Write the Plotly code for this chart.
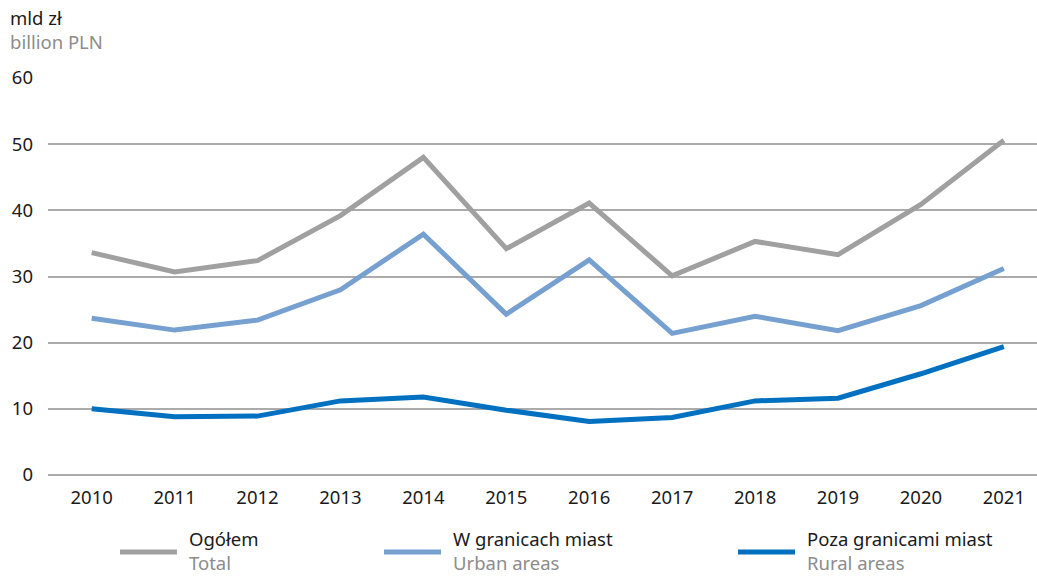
import plotly.graph_objects as go

years = [2010, 2011, 2012, 2013, 2014, 2015, 2016, 2017, 2018, 2019, 2020, 2021]
total = [33.6, 30.7, 32.4, 39.2, 48.0, 34.2, 41.1, 30.1, 35.3, 33.3, 40.9, 50.6]
urban = [23.7, 21.9, 23.4, 28.0, 36.4, 24.3, 32.5, 21.4, 24.0, 21.8, 25.6, 31.2]
rural = [10.0, 8.8, 8.9, 11.2, 11.8, 9.8, 8.1, 8.7, 11.2, 11.6, 15.3, 19.4]

names_pl = ["Ogółem", "W granicach miast", "Poza granicami miast"]
names_en = ["Total", "Urban areas", "Rural areas"]
colors = ["#a0a0a0", "#76a0d0", "#0070c0"]
series = [total, urban, rural]

FONT = "Noto Sans"
FS = 18.5
W, H = 1037, 576
L, R, T, B = 48, 0, 78, 101
PW, PH = W - L - R, H - T - B


def px(x):
    return (x - L) / PW


def py(y):
    return ((H - y) - B) / PH


fig = go.Figure()
for vals, name, col in zip(series, names_pl, colors):
    fig.add_trace(go.Scatter(
        x=years, y=vals, mode="lines", name=name,
        line=dict(color=col, width=5), showlegend=False,
    ))

# legend below the plot: line swatch + Polish / English caption
leg_x = [120, 384, 738]
for xs, pl, en, col in zip(leg_x, names_pl, names_en, colors):
    fig.add_shape(type="line", xref="paper", yref="paper",
                  x0=px(xs), x1=px(xs + 57), y0=py(552), y1=py(552),
                  line=dict(color=col, width=5), layer="above")
    fig.add_annotation(xref="paper", yref="paper", x=px(xs + 68), y=py(576),
                       text=f"{pl}<br><span style='color:#8c8c8c'>{en}</span>",
                       showarrow=False, xanchor="left", yanchor="bottom", align="left",
                       borderpad=0,
                       font=dict(family=FONT, size=FS, color="#1a1a1a"))

# unit captions
fig.add_annotation(xref="paper", yref="paper", x=px(9), y=py(4),
                   text="mld zł<br><span style='color:#8c8c8c'>billion PLN</span>",
                   showarrow=False, xanchor="left", yanchor="top", align="left",
                   borderpad=0,
                   font=dict(family=FONT, size=FS, color="#1a1a1a"))

fig.update_layout(
    width=W, height=H,
    margin=dict(l=L, r=R, t=T, b=B),
    plot_bgcolor="white", paper_bgcolor="white",
    font=dict(family=FONT, size=FS, color="#1a1a1a"),
    xaxis=dict(
        range=[2009.473, 2021.40], tickmode="array", tickvals=years,
        ticktext=[str(y) for y in years], showgrid=False, zeroline=False,
        showline=False, ticks="", ticklabelstandoff=9,
    ),
    yaxis=dict(
        range=[0, 60], tickvals=[0, 10, 20, 30, 40, 50, 60],
        showgrid=True, gridcolor="#ababab", gridwidth=1.5,
        zeroline=True, zerolinecolor="#ababab", zerolinewidth=1.5,
        showline=False, ticks="", ticklabelstandoff=14,
    ),
)

fig.write_html("out.html")
